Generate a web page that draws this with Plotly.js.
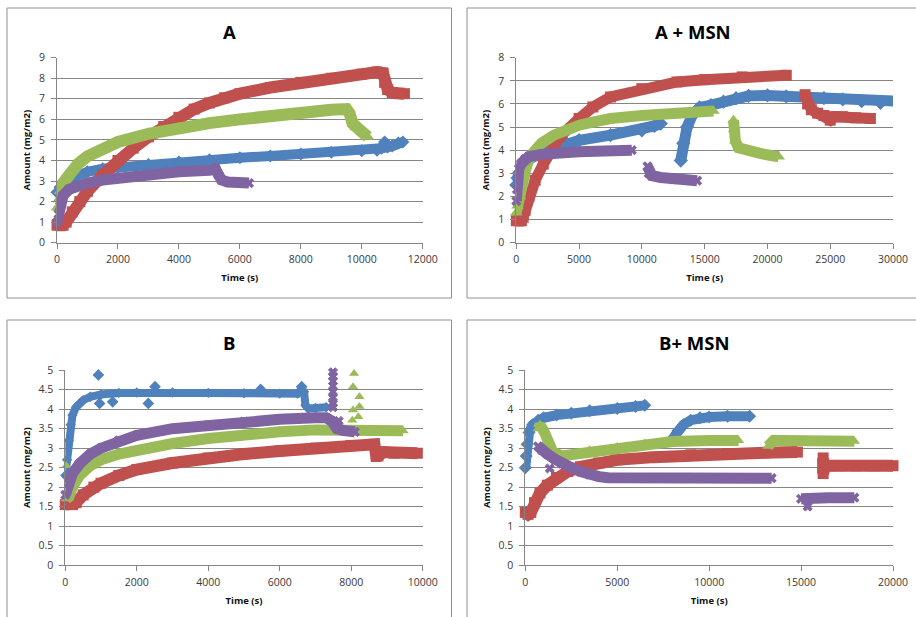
<!DOCTYPE html>
<html>
<head>
<meta charset="utf-8">
<script src="https://cdn.plot.ly/plotly-3.0.1.min.js"></script>
<style>html,body{margin:0;padding:0;background:#fff;}#chart{width:916px;height:617px;}</style>
</head>
<body>
<div id="chart"></div>
<script>
// ---------- Panel A ----------
const aBlueX = [0,100,200,400,700,1000,1500,2000,3000,4000,5000,6000,7000,8000,9000,10000,10500,10650,10750,10850,11000,11200,11350];
const aBlueY = [2.45,2.7,2.9,3.1,3.3,3.45,3.6,3.67,3.8,3.93,4.03,4.13,4.22,4.32,4.4,4.47,4.5,4.6,4.9,4.65,4.7,4.85,4.9];
const aRedX = [0,100,200,300,500,750,1000,1500,2000,2500,3000,3500,4000,4500,5000,5500,6000,7000,8000,9000,10000,10500,10700,10750,10850,11000,11200,11400];
const aRedY = [0.85,0.85,0.85,1.0,1.5,2.0,2.5,3.3,4.0,4.6,5.15,5.65,6.1,6.5,6.8,7.05,7.25,7.55,7.8,8.0,8.2,8.3,8.25,7.8,7.45,7.3,7.25,7.25];
const aGreenX = [0,50,100,200,350,500,700,1000,1500,2000,3000,4000,5000,6000,7000,8000,9000,9500,9600,9700,9800,10000,10200];
const aGreenY = [1.7,2.1,2.5,2.9,3.2,3.5,3.85,4.2,4.6,4.9,5.3,5.6,5.82,6.0,6.2,6.35,6.47,6.5,6.3,5.8,5.6,5.4,5.15];
const aPurpleX = [0,50,100,200,400,700,1000,1500,2000,3000,4000,5000,5200,5300,5400,5600,6000,6300];
const aPurpleY = [1.0,1.4,1.8,2.3,2.6,2.78,2.9,3.05,3.15,3.32,3.45,3.52,3.6,3.3,3.05,2.95,2.9,2.9];

// ---------- Panel A + MSN ----------
const mBlueX = [0,100,200,500,1000,2000,3000,4000,5000,7500,10000,11000,11500,null,13100,13300,13600,14000,14600,15500,16500,17500,18500,20000,21500,23000,24500,26000,27500,29000,30300];
const mBlueY = [2.5,2.8,3.0,3.3,3.6,3.9,4.1,4.3,4.43,4.65,4.86,5.05,5.15,null,3.55,4.3,5.0,5.5,5.85,5.95,6.1,6.25,6.35,6.37,6.33,6.28,6.25,6.2,6.12,6.05,6.12];
const mRedX = [0,200,400,550,700,1000,1500,2150,3500,5000,6100,7500,10000,12800,15000,18000,21500,null,23000,23200,23500,24000,24500,25000,25300,26000,27000,28200];
const mRedY = [0.95,0.95,0.95,1.1,1.4,2.0,2.7,3.4,4.6,5.37,5.87,6.3,6.66,6.95,7.05,7.17,7.24,null,6.4,6.0,5.75,5.6,5.5,5.3,5.45,5.45,5.4,5.37];
const mGreenX = [0,100,300,500,800,1200,2000,3000,4000,5000,6000,7500,10000,12500,15000,15700,null,17300,17350,17450,17700,18500,19500,20500,20900];
const mGreenY = [1.3,1.6,2.0,2.6,3.3,3.8,4.3,4.65,4.9,5.08,5.2,5.37,5.5,5.6,5.65,5.7,null,5.3,4.9,4.4,4.1,3.95,3.85,3.75,3.72];
const mPurpleX = [0,50,100,200,400,700,1000,2000,3000,5000,7000,9200,null,10450,10550,10800,11500,12500,13500,14400];
const mPurpleY = [1.8,2.3,2.8,3.2,3.43,3.62,3.72,3.82,3.88,3.93,3.97,4.0,null,3.3,3.0,2.9,2.82,2.74,2.7,2.68];

// ---------- Panel B ----------
const bBlueX = [0,50,100,150,200,300,400,500,700,1000,1500,2000,3000,4000,5000,6000,6500,6600,6680,6720,6800,7000,7300];
const bBlueY = [2.3,2.7,3.2,3.6,3.85,4.05,4.15,4.23,4.32,4.38,4.42,4.43,4.43,4.42,4.41,4.4,4.4,4.5,4.45,4.1,4.02,4.03,4.05];
const bBlueOutX = [925,960,1325,2323,2510,5466,6614];
const bBlueOutY = [4.88,4.15,4.19,4.15,4.58,4.51,4.58];
const bRedX = [0,200,300,500,800,1000,1500,2000,3000,4000,5000,6000,7000,8000,8650,8700,8750,8900,9200,9850];
const bRedY = [1.55,1.55,1.6,1.8,2.0,2.1,2.3,2.45,2.62,2.75,2.85,2.93,3.0,3.07,3.1,2.8,2.8,2.9,2.87,2.87];
const bGreenX = [30,100,200,400,700,1000,1500,2000,3000,4000,5000,6000,7000,8000,9000,9450];
const bGreenY = [1.7,1.75,2.0,2.3,2.55,2.7,2.85,2.95,3.12,3.25,3.35,3.42,3.47,3.48,3.47,3.45];
const bGreenOutX = [30,8080,8050,8230,8230,8050,8200,8030];
const bGreenOutY = [2.55,4.92,4.58,4.32,4.07,3.98,3.81,3.72];
const bPurpleX = [0,100,200,400,700,1000,1500,2000,3000,4000,5000,6000,7000,7300,7450,7600,7800,8100];
const bPurpleY = [1.8,2.1,2.35,2.6,2.85,3.0,3.2,3.33,3.5,3.6,3.68,3.74,3.78,3.78,3.7,3.5,3.45,3.42];
const bPurpleOutX = [7490,7490,7490,7490,7490,7490,7490,7490,7650];
const bPurpleOutY = [4.95,4.85,4.72,4.6,4.45,4.3,4.15,4.05,3.7];

// ---------- Panel B + MSN ----------
const nBlueX = [0,50,100,200,400,700,1000,1700,2500,3500,5000,6000,6500,null,8100,8300,8600,9000,9500,10000,11000,12200];
const nBlueY = [2.5,2.8,3.1,3.4,3.6,3.72,3.78,3.85,3.9,3.96,4.02,4.07,4.1,null,3.3,3.45,3.6,3.72,3.78,3.8,3.82,3.82];
const nRedX = [0,150,300,500,800,1200,1700,2300,3000,4000,5000,7000,9000,11000,13000,14800,null,16200,16200,16300,16600,17000,18000,19000,20000];
const nRedY = [1.35,1.3,1.35,1.6,1.85,2.05,2.25,2.4,2.52,2.62,2.7,2.77,2.83,2.86,2.88,2.9,null,2.75,2.35,2.55,2.55,2.55,2.55,2.55,2.55];
const nGreenX = [700,800,1000,1200,1500,2000,2500,3500,5000,6500,8000,10000,11600,null,13200,13500,14000,15000,16000,17000,17900];
const nGreenY = [3.5,3.6,3.45,3.2,2.9,2.8,2.83,2.95,3.03,3.12,3.17,3.2,3.2,null,3.05,3.2,3.2,3.2,3.2,3.2,3.18];
const nPurpleX = [700,900,1200,1600,2000,2500,3000,3500,4000,4500,5500,7000,9000,11000,13400,null,15000,15500,16500,17900];
const nPurpleY = [3.05,2.95,2.85,2.72,2.6,2.5,2.4,2.32,2.27,2.24,2.24,2.24,2.24,2.23,2.23,null,1.7,1.72,1.73,1.73];
const nPurpleOutX = [1330,15360];
const nPurpleOutY = [2.48,1.5];

const titles = ['A','A + MSN','B','B+ MSN'];
const xTitle = 'Time (s)';
const yTitle = 'Amount (mg/m2)';

const C = {blue:'#4F81BD', red:'#C0504D', green:'#9BBB59', purple:'#8064A2'};
const SYM = {blue:'diamond', red:'square', green:'triangle-up', purple:'x'};

function band(x, y, col, xa, ya, w, ms) {
  return {x:x, y:y, xaxis:xa, yaxis:ya, type:'scatter', mode:'lines+markers',
    line:{color:C[col], width:w}, connectgaps:false,
    marker:{color:C[col], symbol:SYM[col], size:ms, line:{width:0}},
    cliponaxis:false, showlegend:false, hoverinfo:'skip'};
}
function pts(x, y, col, xa, ya, ms) {
  return {x:x, y:y, xaxis:xa, yaxis:ya, type:'scatter', mode:'markers',
    marker:{color:C[col], symbol:SYM[col], size:ms, line:{width:col==='purple'?1:0, color:C[col]}},
    cliponaxis:false, showlegend:false, hoverinfo:'skip'};
}

const data = [
  band(aBlueX,aBlueY,'blue','x','y',10,10),
  band(aRedX,aRedY,'red','x','y',12,11),
  band(aGreenX,aGreenY,'green','x','y',12,11),
  band(aPurpleX,aPurpleY,'purple','x','y',11,9),

  band(mBlueX,mBlueY,'blue','x2','y2',11,11),
  band(mRedX,mRedY,'red','x2','y2',11,11),
  band(mGreenX,mGreenY,'green','x2','y2',11,11),
  band(mPurpleX,mPurpleY,'purple','x2','y2',11,9),

  band(bBlueX,bBlueY,'blue','x3','y3',8,8),
  pts(bBlueOutX,bBlueOutY,'blue','x3','y3',9),
  band(bRedX,bRedY,'red','x3','y3',12,11),
  band(bGreenX,bGreenY,'green','x3','y3',11,10),
  pts(bGreenOutX,bGreenOutY,'green','x3','y3',9),
  band(bPurpleX,bPurpleY,'purple','x3','y3',11,9),
  pts(bPurpleOutX,bPurpleOutY,'purple','x3','y3',8),

  band(nBlueX,nBlueY,'blue','x4','y4',10,10),
  band(nRedX,nRedY,'red','x4','y4',12,11),
  band(nGreenX,nGreenY,'green','x4','y4',11,10),
  band(nPurpleX,nPurpleY,'purple','x4','y4',11,9),
  pts(nPurpleOutX,nPurpleOutY,'purple','x4','y4',8)
];

const FONT = 'Open Sans, Noto Sans, sans-serif';
const AX = '#868686';
function xax(range, dtick, dom, anchor) {
  return {domain:dom, anchor:anchor, range:range, dtick:dtick, tick0:0, tickformat:'d', showgrid:false, zeroline:false,
    showline:true, linecolor:AX, linewidth:1, ticks:'outside', ticklen:5, tickcolor:AX,
    tickfont:{family:FONT, size:10.5, color:'#3a3a3a'}, ticklabelstandoff:2,
    title:{text:xTitle, font:{family:FONT, size:9.5, color:'#111', weight:'bold'}, standoff:9},
    fixedrange:true};
}
function yax(range, dtick, dom, anchor) {
  return {domain:dom, anchor:anchor, range:range, dtick:dtick, tick0:0, showgrid:true, gridcolor:AX, gridwidth:1,
    zeroline:false, showline:true, linecolor:AX, linewidth:1, ticks:'outside', ticklen:5, tickcolor:AX,
    tickfont:{family:FONT, size:10.5, color:'#3a3a3a'}, ticklabelstandoff:4,
    title:{text:yTitle, font:{family:FONT, size:9.5, color:'#111', weight:'bold'}, standoff:6},
    fixedrange:true};
}

const W = 916, H = 617;
const px = v => v / W;
const py = v => (H - v) / H;

const topY = [py(242.7), py(57.7)];
const botY = [py(565), py(370.3)];

const layout = {
  width:W, height:H, margin:{l:0,r:0,t:0,b:0},
  paper_bgcolor:'#fff', plot_bgcolor:'rgba(0,0,0,0)', showlegend:false,
  xaxis: xax([0,12000],2000,[px(57),px(422.7)],'y'),
  yaxis: yax([0,9],1,topY,'x'),
  xaxis2: xax([0,30000],5000,[px(516.3),px(893)],'y2'),
  yaxis2: yax([0,8],1,topY,'x2'),
  xaxis3: xax([0,10000],2000,[px(65.3),px(422.7)],'y3'),
  yaxis3: yax([0,5],0.5,botY,'x3'),
  xaxis4: xax([0,20000],5000,[px(525.3),px(893)],'y4'),
  yaxis4: yax([0,5],0.5,botY,'x4'),
  shapes: [
    {type:'rect', xref:'paper', yref:'paper', x0:px(7), x1:px(451.5), y0:py(298), y1:py(8), line:{color:'#8f8f8f', width:1}, layer:'below'},
    {type:'rect', xref:'paper', yref:'paper', x0:px(467), x1:px(930), y0:py(298), y1:py(8), line:{color:'#8f8f8f', width:1}, layer:'below'},
    {type:'rect', xref:'paper', yref:'paper', x0:px(7), x1:px(451.5), y0:py(630), y1:py(320), line:{color:'#8f8f8f', width:1}, layer:'below'},
    {type:'rect', xref:'paper', yref:'paper', x0:px(467), x1:px(930), y0:py(630), y1:py(320), line:{color:'#8f8f8f', width:1}, layer:'below'}
  ],
  annotations: [
    {text:titles[0], x:px(229), y:py(31), xref:'paper', yref:'paper', showarrow:false, xanchor:'center', yanchor:'middle', font:{family:FONT, size:18.5, color:'#000', weight:'bold'}},
    {text:titles[1], x:px(693), y:py(31), xref:'paper', yref:'paper', showarrow:false, xanchor:'center', yanchor:'middle', font:{family:FONT, size:18.5, color:'#000', weight:'bold'}},
    {text:titles[2], x:px(228.5), y:py(342), xref:'paper', yref:'paper', showarrow:false, xanchor:'center', yanchor:'middle', font:{family:FONT, size:18.5, color:'#000', weight:'bold'}},
    {text:titles[3], x:px(694), y:py(342), xref:'paper', yref:'paper', showarrow:false, xanchor:'center', yanchor:'middle', font:{family:FONT, size:18.5, color:'#000', weight:'bold'}}
  ]
};

Plotly.newPlot('chart', data, layout, {staticPlot:true, displayModeBar:false});
</script>
</body>
</html>
